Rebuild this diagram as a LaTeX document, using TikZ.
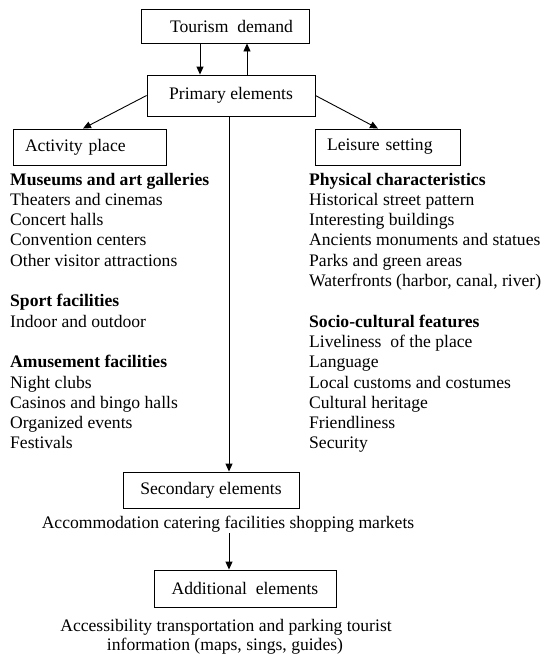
\documentclass[tikz,border=0pt]{standalone}
\usepackage{fontspec}
\setmainfont{Liberation Serif}
\usetikzlibrary{arrows.meta}
\tikzset{
  box/.style={draw, line width=0.9pt, inner sep=0pt, align=center},
  leftbox/.style={draw, line width=0.9pt, inner ysep=0pt, inner xsep=12pt, align=left},
  arr/.style={line width=0.9pt, -{Triangle[length=8pt,width=7pt]}},
  item/.style={anchor=base west, inner sep=0pt},
  txt/.style={anchor=base, inner sep=0pt}
}
\begin{document}
\begin{tikzpicture}[x=1pt,y=-1pt,font=\fontsize{17.6pt}{20.3pt}\selectfont]
\useasboundingbox (0,0) rectangle (551,654);
\fill[white] (0,0) rectangle (551,654);
% boxes
\node[box, minimum width=168pt, minimum height=34pt] (tour) at (225,26) {\hspace*{13pt}Tourism\ \ demand};
\node[box, minimum width=168pt, minimum height=41pt] (prim) at (231,95.5) {Primary elements};
\node[leftbox, minimum width=153pt, text width=129pt, minimum height=36pt] (act) at (89.5,147) {Activity place};
\node[leftbox, minimum width=145pt, text width=121pt, minimum height=36pt] (leis) at (387.5,147) {Leisure setting};
\node[box, minimum width=176pt, minimum height=36pt] (sec) at (211,490) {Secondary elements};
\node[box, minimum width=182pt, minimum height=37pt] (add) at (245,588.5) {Additional\ \ elements};
% texts
\node[txt] (acc) at (228,528) {Accommodation catering facilities shopping markets};
\node[txt] (info1) at (226,631) {Accessibility transportation and parking tourist};
\node[txt] (info2) at (225,650) {information (maps, sings, guides)};
% left column
\foreach \n/\t in {0/{\textbf{Museums and art galleries}},1/{Theaters and cinemas},2/{Concert halls},3/{Convention centers},4/{Other visitor attractions},6/{\textbf{Sport facilities}},7/{Indoor and outdoor},9/{\textbf{Amusement facilities}},10/{Night clubs},11/{Casinos and bingo halls},12/{Organized events},13/{Festivals}}
  \node[item] (L\n) at (10,{185+\n*20.3}) {\t};
% right column
\foreach \n/\t in {0/{\textbf{Physical characteristics}},1/{Historical street pattern},2/{Interesting buildings},3/{Ancients monuments and statues},4/{Parks and green areas},5/{Waterfronts (harbor, canal, river)},7/{\textbf{Socio-cultural features}},8/{Liveliness\ \ of the place},9/{Language},10/{Local customs and costumes},11/{Cultural heritage},12/{Friendliness},13/{Security}}
  \node[item] (R\n) at (309,{185+\n*20.3}) {\t};
% connector guides
\coordinate (xa) at (200,0);
\coordinate (xb) at (247,0);
\coordinate (xc) at (229,0);
% connectors
\draw[arr] (tour.south -| xa) -- (prim.north -| xa);
\draw[arr] (prim.north -| xb) -- (tour.south -| xb);
\draw[arr] (prim.west) -- ([xshift=-6.5pt]act.north);
\draw[arr] (prim.east) -- ([xshift=-9.5pt]leis.north);
\draw[arr] (prim.south -| xc) -- (sec.north -| xc);
\draw[arr] ([yshift=-1pt]acc.south -| xc) -- (add.north -| xc);
\end{tikzpicture}
\end{document}
